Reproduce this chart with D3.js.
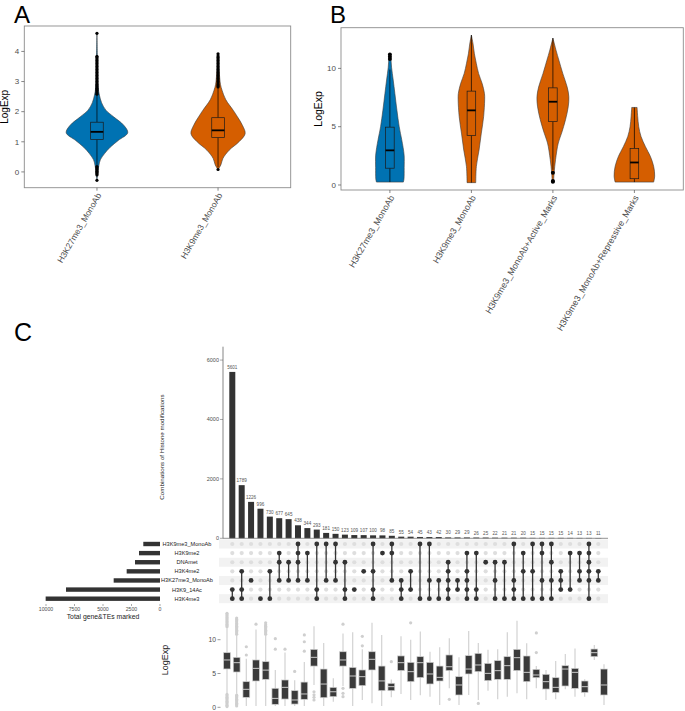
<!DOCTYPE html>
<html><head><meta charset="utf-8">
<script src="https://cdn.jsdelivr.net/npm/d3@7"></script>
<style>body{margin:0;background:#fff}svg{display:block;font-family:"Liberation Sans",Arial,sans-serif}</style>
</head><body>
<svg id="c" width="685" height="711"></svg>
<script>
// ---------------- DATA ----------------
// Panel A
const catsA = ["H3K27me3_MonoAb", "H3K9me3_MonoAb"];
const densA1 = [[-0.28,0],[0.0,0.03],[0.2,0.06],[0.4,0.11],[0.6,0.24],[0.82,0.43],[1.05,0.70],[1.3,1.0],[1.55,0.87],[1.83,0.54],[2.05,0.29],[2.3,0.15],[2.55,0.08],[2.8,0.04],[3.2,0.026],[3.8,0.016],[4.6,0]];
const densA2 = [[0.08,0],[0.23,0.09],[0.45,0.16],[0.72,0.36],[1.0,0.68],[1.27,0.88],[1.55,0.79],[1.83,0.63],[2.05,0.49],[2.4,0.25],[2.71,0.13],[2.9,0.08],[3.3,0.04],[3.9,0]];
const statsA = [ // [lo, q1, med, q3, hi]
  [0.22, 1.08, 1.33, 1.65, 2.55],
  [0.15, 1.14, 1.38, 1.80, 2.79]
];
const outA1 = [2.58,2.62,2.66,2.7,2.74,2.78,2.82,2.86,2.9,2.95,3.0,3.05,3.1,3.15,3.2,3.25,3.3,3.35,3.4,3.45,3.5,3.55,3.6,3.65,3.7,3.75,3.8,3.84,4.6,0.18,0.14,0.1,0.06,0.02,-0.02,-0.06,-0.1,-0.28];
const outA2 = [2.82,2.86,2.9,2.95,3.0,3.05,3.1,3.15,3.2,3.25,3.3,3.35,3.4,3.45,3.5,3.55,3.6,3.65,3.7,3.75,3.8,3.85,3.92,0.08];
const ticksA = [0,1,2,3,4];

// Panel B
const catsB = ["H3K27me3_MonoAb", "H3K9me3_MonoAb", "H3K9me3_MonoAb+Active_Marks", "H3K9me3_MonoAb+Repressive_Marks"];
const densB1 = [[0.25,0.65],[0.5,0.68],[1.5,0.69],[2.5,0.69],[3.2,0.64],[3.9,0.57],[5.0,0.45],[6.4,0.34],[7.85,0.24],[9.0,0.16],[10.1,0.08],[10.8,0.05],[11.3,0]];
const densB2 = [[0.2,0.21],[1.6,0.24],[3.0,0.37],[4.45,0.48],[5.86,0.59],[7.3,0.64],[7.85,0.63],[8.7,0.52],[9.55,0.35],[10.4,0.24],[11.25,0.145],[12.1,0.08],[12.86,0]];
const densB3 = [[0.3,0.03],[1.05,0.06],[2.2,0.13],[3.6,0.26],[4.45,0.42],[5.6,0.61],[6.7,0.74],[7.56,0.77],[8.4,0.69],[9.55,0.48],[10.7,0.29],[11.5,0.16],[12.6,0]];
const densB4 = [[0.25,0.93],[0.76,0.98],[1.6,0.93],[2.46,0.77],[3.3,0.53],[4.16,0.32],[5.0,0.21],[5.86,0.16],[6.65,0.13]];
const statsB = [
  [0.25, 1.44, 2.97, 4.96, 9.9],
  [0.2, 4.25, 6.4, 8.05, 12.86],
  [1.3, 5.44, 7.14, 8.33, 12.6],
  [0.25, 0.54, 1.93, 3.14, 6.65]
];
const outB = [[10.8,11.0,11.2],[],[1.05,0.35,0.28],[]];
const ticksB = [0,5,10];

// Panel C
const sets = ["H3K9me3_MonoAb","H3K9me2","DNAmet","H3K4me2","H3K27me3_MonoAb","H3K9_14Ac","H3K4me3"];
const setSizes = [1465, 1842, 2193, 2924, 4064, 8246, 10030];
const comboCounts = [5601,1789,1226,996,730,677,645,438,344,293,181,150,123,109,107,100,98,85,55,54,45,43,42,30,29,29,26,25,22,21,21,20,15,15,15,15,14,13,13,11];
const comboSets = [[5,6],[3,5,6],[4],[6],[3,6],[1,2,4],[2,4],[0,1,2,4],[1,4],[0,5,6],[0,4],[0,2,4],[2,5,6],[5],[3],[0,3,5,6],[1],[0,1,4],[4,5,6],[3,5],[0,6],[0,4,6],[4,6],[2,3,4,5,6],[4,5],[1,3,4,5,6],[1,5,6],[2],[2,4,6],[2,6],[0,4,5,6],[1,3,6],[0,3,6],[0,1,4,6],[0,2,4,6],[3,4,5],[1,5],[1,3,4],[0,1,2,3,4,6],[3,4]];
const barTicks = [0,2000,4000,6000];
const sizeTicks = [10000,7500,5000,2500,0];
const boxTicks = [0,5,10];
const boxLo  = [2.1,2.0,0.2,0.2,0.2,0.2,0.2,0.2,0.2,3.3,0.2,0.83,3.15,0.2,1.08,0.6,0.2,1.47,1.97,1.08,1.8,1.57,0.34,2.8,0.34,1.82,1.08,2.46,1.18,1.57,2.07,1.18,2.8,1.08,1.18,2.66,1.57,1.57,7.0,0.34];
const boxQ1  = [5.67,5.22,1.47,3.89,4.13,0.44,1.22,0.48,1.18,6.1,1.42,1.57,6.1,2.8,3.2,5.52,2.46,2.46,5.43,3.79,4.39,3.45,3.89,5.43,1.82,4.93,5.27,3.94,4.13,4.13,5.43,3.79,4.38,2.7,2.2,3.15,2.8,2.2,7.49,1.82];
const boxMed = [7.0,6.6,2.66,5.76,5.5,1.32,2.95,1.08,1.97,7.39,3.44,2.3,7.0,4.63,4.53,7.1,3.9,3.05,6.6,5.27,6.6,4.93,4.43,6.0,3.3,5.66,6.26,5.02,5.42,6.16,7.34,5.17,4.78,3.79,2.95,5.66,5.17,3.05,8.08,3.3];
const boxQ3  = [8.08,7.39,3.79,7.0,6.75,2.81,4.04,2.46,3.73,8.57,5.66,2.95,8.22,5.9,5.52,8.22,6.1,3.55,7.6,6.65,7.49,6.65,6.1,7.74,4.53,7.64,7.98,6.5,6.9,7.49,8.57,7.59,5.61,4.88,4.38,6.16,5.76,3.89,8.62,5.66];
const boxHi  = [11.7,10.6,7.2,11.5,10.6,5.5,8.1,4.0,6.7,12.0,9.5,4.3,10.9,11.1,8.57,12.5,10.7,4.1,10.5,10.0,11.2,8.2,8.87,10.2,7.4,11.3,9.5,8.5,8.6,11.1,12.8,9.46,6.1,5.5,6.85,7.9,8.7,4.14,9.2,6.35];
const boxOut = [
  [11.9,12.1,12.3,12.5,12.7,12.9,13.1,13.3,13.5,13.7,13.9,1.9,1.7,1.5,1.3,1.1,0.9,0.7,0.5,0.3,0.1],
  [10.8,11.0,11.2,11.4,11.6,11.8,12.0,12.2,12.4,12.6,12.8,13.0,13.2,1.8,1.6,1.4,1.2,1.0,0.8,0.6,0.4,0.2],
  [7.74,8.96],[12.3],
  [10.8,11.0,11.2,11.4,11.6,11.8,12.0,12.2,12.5],
  [8.6,10.15],[8.6],[5.3],[8.3,9.7,10.7],[2.3,1.86,1.47,1.08],[],[],
  [12.3,2.8,2.07,1.57],[],[9.1,10.5],[],[],[6.75],[],[12.5],[],[],[],[1.18],[],[],[0.58],[],[],[],[],[],[8.1,11.0],[],[],[],[],[],[],[]
];

// ---------------- DRAW ----------------
const svg = d3.select("#c");
const BLUE = "#0072B2", ORANGE = "#D55E00", TXT = "#4d4d4d";

function violinPanel(cfg) {
  const g = svg.append("g");
  const y = d3.scaleLinear().domain(cfg.domain).range([cfg.bottom, cfg.top]);
  const x = d3.scalePoint().domain(cfg.cats).range([cfg.left, cfg.right]).padding(0.6);
  const w = d3.scaleLinear().domain([0, 1]).range([0, cfg.maxHalf]);
  cfg.dens.forEach((dd, i) => {
    const cx = x(cfg.cats[i]);
    const area = d3.area().curve(d3.curveCatmullRom.alpha(0.5))
      .y(d => y(d[0])).x0(d => cx - w(d[1])).x1(d => cx + w(d[1]));
    g.append("path").attr("d", area(dd)).attr("fill", cfg.colors[i])
      .attr("stroke", "#3a3a3a").attr("stroke-width", 0.6);
    const s = cfg.stats[i];
    g.append("line").attr("x1", cx).attr("x2", cx).attr("y1", y(s[0])).attr("y2", y(s[1])).attr("stroke", "#000").attr("stroke-width", 0.7);
    g.append("line").attr("x1", cx).attr("x2", cx).attr("y1", y(s[3])).attr("y2", y(s[4])).attr("stroke", "#000").attr("stroke-width", 0.7);
    g.append("rect").attr("x", cx - cfg.boxHalf).attr("width", cfg.boxHalf * 2)
      .attr("y", y(s[3])).attr("height", y(s[1]) - y(s[3]))
      .attr("fill", cfg.colors[i]).attr("stroke", "#1a1a1a").attr("stroke-width", 0.7);
    g.append("line").attr("x1", cx - cfg.boxHalf).attr("x2", cx + cfg.boxHalf).attr("y1", y(s[2])).attr("y2", y(s[2])).attr("stroke", "#000").attr("stroke-width", 1.8);
    cfg.outs[i].forEach(v => g.append("circle").attr("cx", cx).attr("cy", y(v)).attr("r", cfg.ptR).attr("fill", "#000"));
  });
  g.append("rect").attr("x", cfg.left).attr("y", cfg.top).attr("width", cfg.right - cfg.left).attr("height", cfg.bottom - cfg.top)
    .attr("fill", "none").attr("stroke", "#8c8c8c").attr("stroke-width", 0.9);
  cfg.ticks.forEach(t => {
    g.append("line").attr("x1", cfg.left - 3).attr("x2", cfg.left).attr("y1", y(t)).attr("y2", y(t)).attr("stroke", "#555").attr("stroke-width", 0.7);
    g.append("text").attr("x", cfg.left - 5).attr("y", y(t)).attr("dy", "0.35em").attr("text-anchor", "end")
      .attr("font-size", cfg.tickFs).attr("fill", TXT).text(t);
  });
  cfg.cats.forEach(c => {
    const cx = x(c);
    g.append("line").attr("x1", cx).attr("x2", cx).attr("y1", cfg.bottom).attr("y2", cfg.bottom + 3).attr("stroke", "#555").attr("stroke-width", 0.7);
    g.append("text").attr("transform", `translate(${cx + 2},${cfg.bottom + 6}) rotate(-60)`)
      .attr("text-anchor", "end").attr("dy", "0.35em").attr("font-size", cfg.xFs).attr("fill", TXT).text(c);
  });
  g.append("text").attr("transform", `translate(${cfg.titleX},${(cfg.top + cfg.bottom) / 2}) rotate(-90)`)
    .attr("text-anchor", "middle").attr("font-size", cfg.titleFs).attr("fill", "#000").text("LogExp");
  g.append("text").attr("x", cfg.letterX).attr("y", 23).attr("font-size", 24).attr("fill", "#000").text(cfg.letter);
}

violinPanel({
  cats: catsA, dens: [densA1, densA2], stats: statsA, outs: [outA1, outA2], colors: [BLUE, ORANGE],
  domain: [-0.524, 4.844], top: 26, bottom: 187.7, left: 24.3, right: 290.7, maxHalf: 30.8, boxHalf: 6.3, ptR: 1.6,
  ticks: ticksA, tickFs: 8, xFs: 8.5, titleFs: 10, titleX: 8, letter: "A", letterX: 14
});
violinPanel({
  cats: catsB, dens: [densB1, densB2, densB3, densB4], stats: statsB, outs: outB, colors: [BLUE, ORANGE, ORANGE, ORANGE],
  domain: [-0.43, 13.49], top: 27.7, bottom: 190, left: 341, right: 683.3, maxHalf: 20.7, boxHalf: 4.3, ptR: 2,
  ticks: ticksB, tickFs: 8, xFs: 8.8, titleFs: 10.5, titleX: 322, letter: "B", letterX: 330
});

// ---------- Panel C ----------
const gC = svg.append("g");
gC.append("text").attr("x", 14).attr("y", 341).attr("font-size", 25).attr("fill", "#000").text("C");
const idx = comboCounts.map((d, i) => i);
const xBar = d3.scalePoint().domain(idx).range([232.3, 598.3]);
const yBar = d3.scaleLinear().domain([0, 6450]).range([538.3, 346.7]);
const yRow = d3.scalePoint().domain(sets).range([544, 598.7]);
const xSize = d3.scaleLinear().domain([0, 10000]).range([160, 46]);
const xBox = d3.scalePoint().domain(idx).range([227, 604]);
const yBox = d3.scaleLinear().domain([0, 10]).range([707.3, 639.7]);

sets.forEach((s, i) => {
  if (i % 2 === 0) gC.append("rect").attr("x", 219).attr("width", 389).attr("y", yRow(s) - 4.5).attr("height", 9).attr("fill", "#f2f2f2");
});
gC.selectAll(".bar").data(comboCounts).enter().append("rect")
  .attr("x", (d, i) => xBar(i) - 3).attr("width", 6).attr("y", d => yBar(d)).attr("height", d => yBar(0) - yBar(d)).attr("fill", "#333");
gC.selectAll(".blab").data(comboCounts).enter().append("text")
  .attr("x", (d, i) => xBar(i)).attr("y", d => yBar(d) - 3).attr("text-anchor", "middle")
  .attr("font-size", 4.6).attr("fill", "#555").text(d => d);
gC.append("line").attr("x1", 223).attr("x2", 223).attr("y1", 346.7).attr("y2", 538.3).attr("stroke", "#333").attr("stroke-width", 0.6);
gC.append("line").attr("x1", 223).attr("x2", 608).attr("y1", 538.3).attr("y2", 538.3).attr("stroke", "#777").attr("stroke-width", 0.8);
barTicks.forEach(t => {
  gC.append("line").attr("x1", 220).attr("x2", 223).attr("y1", yBar(t)).attr("y2", yBar(t)).attr("stroke", "#555").attr("stroke-width", 0.5);
  gC.append("text").attr("x", 219).attr("y", yBar(t)).attr("dy", "0.35em").attr("text-anchor", "end").attr("font-size", 5.5).attr("fill", TXT).text(t);
});
gC.append("text").attr("transform", `translate(164,447) rotate(-90)`).attr("text-anchor", "middle").attr("font-size", 6.2).attr("fill", "#222").text("Combinations of Histone modifications");

comboSets.forEach((cs, i) => {
  const cx = xBar(i);
  sets.forEach((s, j) => {
    if (!cs.includes(j)) gC.append("circle").attr("cx", cx).attr("cy", yRow(s)).attr("r", 2.1).attr("fill", "#dedede");
  });
  if (cs.length > 1) {
    const ys = cs.map(j => yRow(sets[j]));
    gC.append("line").attr("x1", cx).attr("x2", cx).attr("y1", d3.min(ys)).attr("y2", d3.max(ys)).attr("stroke", "#333").attr("stroke-width", 1.3);
  }
  cs.forEach(j => gC.append("circle").attr("cx", cx).attr("cy", yRow(sets[j])).attr("r", 2.4).attr("fill", "#333"));
});

sets.forEach((s, i) => {
  gC.append("rect").attr("x", xSize(setSizes[i])).attr("width", xSize(0) - xSize(setSizes[i]))
    .attr("y", yRow(s) - 2.2).attr("height", 4.4).attr("fill", "#333");
  gC.append("text").attr("x", 187).attr("y", yRow(s)).attr("dy", "0.35em").attr("text-anchor", "middle")
    .attr("font-size", 5.6).attr("fill", "#222").text(s);
});
sizeTicks.forEach(t => {
  gC.append("line").attr("x1", xSize(t)).attr("x2", xSize(t)).attr("y1", 604).attr("y2", 606).attr("stroke", "#555").attr("stroke-width", 0.5);
  gC.append("text").attr("x", xSize(t)).attr("y", 611).attr("text-anchor", "middle").attr("font-size", 5.2).attr("fill", TXT).text(t);
});
gC.append("text").attr("x", 103).attr("y", 619).attr("text-anchor", "middle").attr("font-size", 6.8).attr("fill", "#222").text("Total gene&TEs marked");

boxTicks.forEach(t => {
  gC.append("line").attr("x1", 217.5).attr("x2", 220.5).attr("y1", yBox(t)).attr("y2", yBox(t)).attr("stroke", "#555").attr("stroke-width", 0.6);
  gC.append("text").attr("x", 216).attr("y", yBox(t)).attr("dy", "0.35em").attr("text-anchor", "end").attr("font-size", 6.8).attr("fill", TXT).text(t);
});
gC.append("text").attr("transform", `translate(168,660) rotate(-90)`).attr("text-anchor", "middle").attr("font-size", 9).attr("fill", "#222").text("LogExp");
idx.forEach(i => {
  const cx = xBox(i);
  gC.append("line").attr("x1", cx).attr("x2", cx).attr("y1", yBox(boxLo[i])).attr("y2", yBox(boxHi[i])).attr("stroke", "#d6d6d6").attr("stroke-width", 1.3);
  boxOut[i].forEach(v => gC.append("circle").attr("cx", cx).attr("cy", yBox(v)).attr("r", 1.6).attr("fill", "#cfcfcf"));
  gC.append("rect").attr("x", cx - 3.4).attr("width", 6.8).attr("y", yBox(boxQ3[i])).attr("height", yBox(boxQ1[i]) - yBox(boxQ3[i]))
    .attr("fill", "#3a3a3a").attr("stroke", "#cfcfcf").attr("stroke-width", 0.7);
  gC.append("line").attr("x1", cx - 3.4).attr("x2", cx + 3.4).attr("y1", yBox(boxMed[i])).attr("y2", yBox(boxMed[i])).attr("stroke", "#d9d9d9").attr("stroke-width", 0.9);
});
</script>
</body></html>
